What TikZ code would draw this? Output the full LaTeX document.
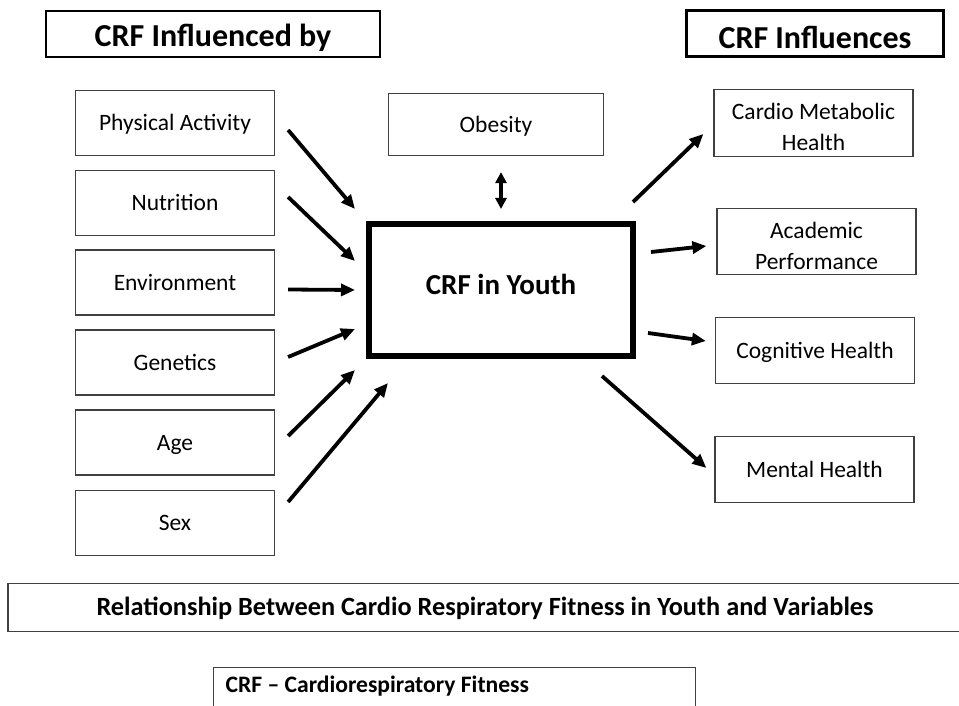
\documentclass[tikz,border=0pt]{standalone}
\usepackage{fontspec}
\setmainfont{Carlito}
\usepackage{tikz}
\usetikzlibrary{arrows.meta,positioning}

\begin{document}
\begin{tikzpicture}[x=1pt,y=-1pt]
  \tikzstyle{every node}=[draw=black!75, line width=1.2pt, rectangle, inner sep=0pt, align=center,
    font=\fontsize{23.5}{31}\selectfont]
  \tikzstyle{box}=[minimum width=199pt, minimum height=65pt]
  \tikzstyle{factor}=[box, text height=15.1pt, text depth=0pt]
  \tikzstyle{heading}=[font=\fontsize{32}{38}\selectfont\bfseries, draw=black, text depth=0pt]

  \useasboundingbox (0,0) rectangle (959,706);
  \clip (0,0) rectangle (959,706);

  % Headings
  \node[heading, line width=2pt, minimum width=334pt, minimum height=46pt, text height=24.6pt]
    (InfluencedBy) at (213,34) {CRF Influenced by};
  \node[heading, line width=3pt, minimum width=257pt, minimum height=46pt, text height=31pt]
    (Influences) at (815,33.5) {CRF Influences};

  % Factors on the left
  \node[factor] (Activity) at (175,123) {Physical Activity};
  \node[factor] (Nutrition) at (175,203) {Nutrition};
  \node[factor] (Environment) at (175,282.5) {Environment};
  \node[factor] (Genetics) at (175,362.5) {Genetics};
  \node[factor] (Age) at (175,442.5) {Age};
  \node[factor] (Sex) at (175,523) {Sex};

  % Centre
  \node[factor, minimum width=215pt, minimum height=62pt] (Obesity) at (496,124.5) {Obesity};
  \node[draw=black, line width=6pt, minimum width=264pt, minimum height=132pt,
    text height=18.7pt, text depth=10pt,
    font=\fontsize{29}{34}\selectfont\bfseries] (Youth) at (501,290) {CRF in Youth};

  % Outcomes on the right
  \node[box, minimum height=67pt] (Metabolic) at (813.5,123) {\rule{0pt}{25pt}Cardio Metabolic\\Health};
  \node[box, minimum height=66pt] (Academic) at (816.5,241.5) {\rule{0pt}{25pt}Academic\\Performance};
  \node[factor, minimum height=66pt] (Cognitive) at (815,350.5) {Cognitive Health};
  \node[factor, minimum height=66pt] (Mental) at (814.5,469.5) {Mental Health};

  % Title and legend
  \node[minimum width=954pt, minimum height=48pt, text height=16.9pt, text depth=0pt,
    font=\fontsize{26.3}{31}\selectfont\bfseries] (Title) at (485,607.5)
    {Relationship Between Cardio Respiratory Fitness in Youth and Variables};
  \node[anchor=north west, inner xsep=12pt, inner ysep=8pt, text height=17pt, text depth=25pt,
    font=\fontsize{23.6}{28}\selectfont\bfseries] (Legend) at (213,667)
    {\makebox[458pt][l]{CRF -- Cardiorespiratory Fitness}};

  \begin{scope}[line width=3.8pt, -{Triangle[length=14pt,width=12pt]}]
    \draw ([shift={(13,7)}]Activity.east) to ([shift={(-11,-12)}]Youth.north west);
    \draw ([shift={(13,-6)}]Nutrition.east) to ([shift={(-11,-29)}]Youth.west);
    \draw ([shift={(13,7)}]Environment.east) to ([shift={(-11,0)}]Youth.west);
    \draw ([shift={(13,-5.5)}]Genetics.east) to ([shift={(-11,39)}]Youth.west);
    \draw ([shift={(13,-6.5)}]Age.east) to ([shift={(-11,11)}]Youth.south west);
    \draw ([shift={(13,-21)}]Sex.east) to ([shift={(22,24)}]Youth.south west);
    \draw[line width=3.2pt, {Triangle[length=11pt,width=11pt]}-{Triangle[length=11pt,width=11pt]}]
      ([shift={(5,16)}]Obesity.south) to ([shift={(0,-12)}]Youth.north);
    \draw ([shift={(-3,-19)}]Youth.north east) to ([shift={(-10,11)}]Metabolic.west);
    \draw ([shift={(15,-38)}]Youth.east) to ([shift={(-10,4.5)}]Academic.west);
    \draw ([shift={(12,43)}]Youth.east) to ([shift={(-9,-9.5)}]Cognitive.west);
    \draw ([shift={(-34,17)}]Youth.south east) to ([shift={(-8,-1.5)}]Mental.west);
  \end{scope}
\end{tikzpicture}
\end{document}
